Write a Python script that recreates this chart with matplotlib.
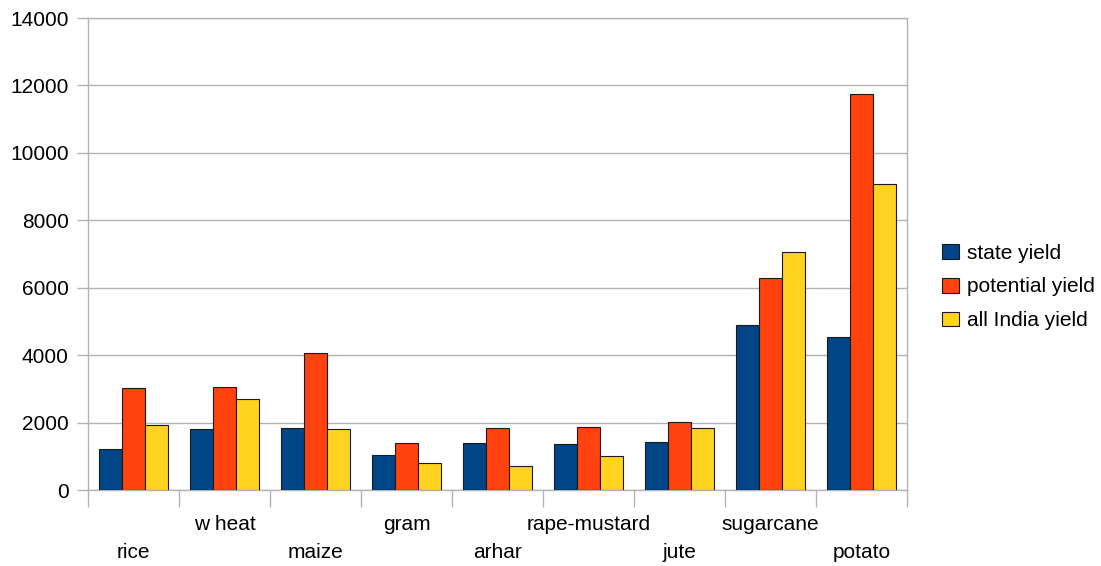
import numpy as np
import matplotlib
matplotlib.use("Agg")
import matplotlib.pyplot as plt
from matplotlib.patches import Patch

plt.rcParams['font.family'] = ['Liberation Sans', 'DejaVu Sans']

# crop yields (kg/ha)
crops = ["rice", "w heat", "maize", "gram", "arhar", "rape-mustard", "jute", "sugarcane", "potato"]
state_yield = [1210, 1820, 1850, 1025, 1390, 1360, 1420, 4890, 4535]
potential_yield = [3035, 3060, 4055, 1390, 1830, 1860, 2020, 6280, 11745]
india_yield = [1940, 2705, 1820, 790, 725, 1005, 1830, 7060, 9070]

series_names = ["state yield", "potential yield", "all India yield"]
colors = ["#004586", "#ff420e", "#ffd320"]
y_ticks = [0, 2000, 4000, 6000, 8000, 10000, 12000, 14000]

FS = 15

W, H = 1101, 566
fig = plt.figure(figsize=(W / 100, H / 100), dpi=100)
ax = fig.add_axes([88 / W, (H - 490) / H, 819 / W, 472 / H])

x = np.arange(len(crops))
bw = 0.25
for i, (vals, col) in enumerate(zip([state_yield, potential_yield, india_yield], colors)):
    ax.bar(x + (i - 1) * bw, vals, width=bw, color=col, edgecolor="#1a1a1a",
           linewidth=0.8, zorder=3)

ax.set_xlim(-0.5, len(crops) - 0.5)
ax.set_ylim(0, 14000)
ax.set_yticks(y_ticks)
ax.set_yticklabels([str(v) for v in y_ticks], fontsize=FS)
ax.yaxis.grid(True, color="#b3b3b3", linewidth=1.0, zorder=0)
ax.tick_params(axis="y", length=8, color="#b3b3b3", width=1.0, pad=6)

# category boundary ticks, labels placed by hand in two staggered rows
ax.set_xticks(np.arange(len(crops) + 1) - 0.5)
ax.set_xticklabels([])
ax.tick_params(axis="x", length=12, color="#b3b3b3", width=1.0)
for i, name in enumerate(crops):
    off = -34 if i % 2 == 1 else -63
    ax.annotate(name, xy=(i, 0), xycoords=("data", "axes fraction"),
                xytext=(0, off), textcoords="offset pixels",
                ha="center", va="center", fontsize=FS)

for s in ax.spines.values():
    s.set_color("#b3b3b3")
    s.set_linewidth(1.0)

handles = [Patch(facecolor=c, edgecolor="#1a1a1a", linewidth=0.8) for c in colors]
fig.legend(handles, series_names, loc="center left",
           bbox_to_anchor=(940 / W, 1 - 287 / H), frameon=False, fontsize=FS,
           handlelength=0.8, handleheight=0.7, handletextpad=0.4, labelspacing=0.7,
           borderpad=0.1, borderaxespad=0)

fig.savefig("out.png", dpi=100)
